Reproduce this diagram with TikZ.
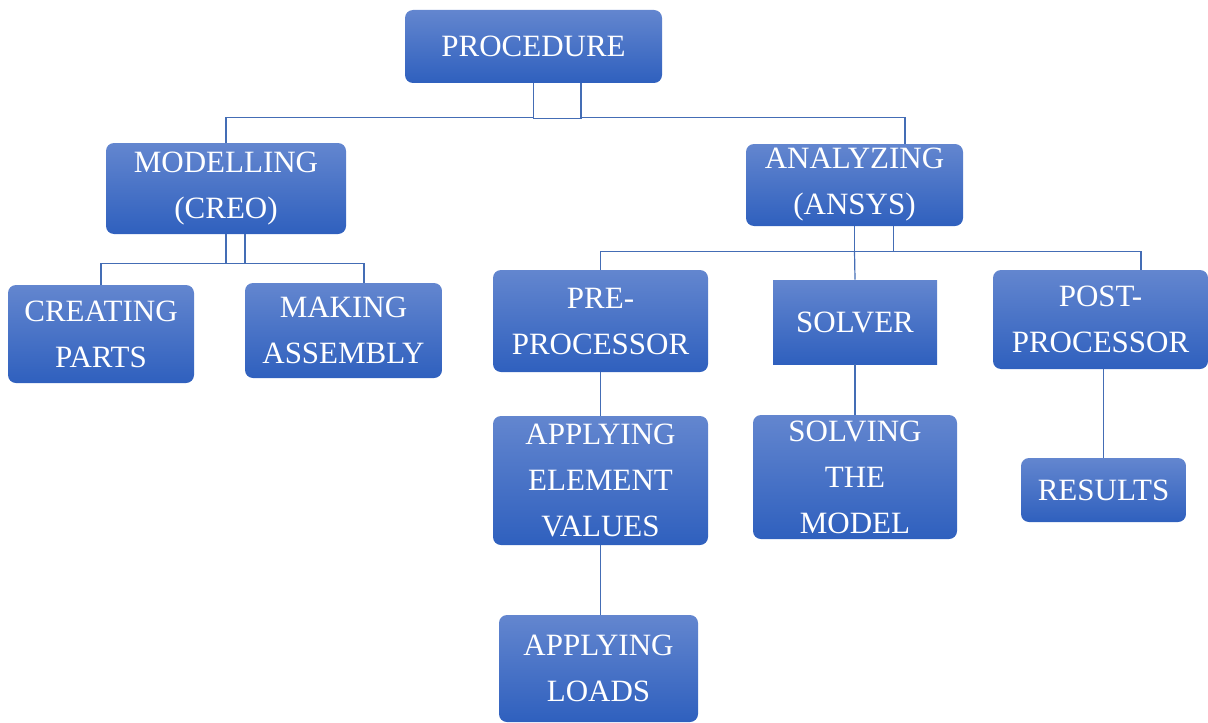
\documentclass[tikz,border=0pt]{standalone}
\usepackage{fontspec}
\setmainfont{Liberation Serif}
\usetikzlibrary{positioning}
\definecolor{boxtop}{RGB}{99,134,207}
\definecolor{boxbottom}{RGB}{47,96,190}
\definecolor{linkcolor}{RGB}{68,109,181}

\begin{document}
\begin{tikzpicture}[
    x=0.5pt, y=-0.5pt,
    stage/.style={rounded corners=4pt, top color=boxtop, bottom color=boxbottom, text=white, align=center, inner sep=0pt, font=\fontsize{15.5}{23}\selectfont},
    link/.style={draw=linkcolor, line width=0.6pt}
]
    \useasboundingbox (0,0) rectangle (1208,722);

    % Top level
    \node[stage, minimum width=128.5pt, minimum height=36.5pt] (proc) at (533.5,46.5) {PROCEDURE};

    % Second level
    \node[stage, minimum width=120pt, minimum height=45.5pt] (model) at (226,188.5) {MODELLING\\(CREO)};
    \node[stage, minimum width=108.5pt, minimum height=41pt] (anal) at (854.5,185) {ANALYZING\\(ANSYS)};

    % Modelling branch
    \node[stage, minimum width=93pt, minimum height=49pt] (parts) at (101,334) {CREATING\\PARTS};
    \node[stage, minimum width=98.5pt, minimum height=47.5pt] (assem) at (343.5,330.5) {MAKING\\ASSEMBLY};

    % Analyzing branch
    \node[stage, minimum width=107.5pt, minimum height=51pt] (pre) at (600.5,321) {PRE-\\PROCESSOR};
    \node[stage, sharp corners, minimum width=82pt, minimum height=42pt] (solver) at (855,322) {SOLVER};
    \node[stage, minimum width=107.5pt, minimum height=49.5pt] (post) at (1100.5,319.5) {POST-\\PROCESSOR};

    \node[stage, minimum width=107.5pt, minimum height=64.5pt] (elem) at (600.5,480.5) {APPLYING\\ELEMENT\\VALUES};
    \node[stage, minimum width=102pt, minimum height=62pt] (solving) at (855,477) {SOLVING\\THE\\MODEL};
    \node[stage, minimum width=82.5pt, minimum height=32pt] (results) at (1103.5,490) {RESULTS};
    \node[stage, minimum width=99.5pt, minimum height=53.5pt] (loads) at (598.5,668.5) {APPLYING\\LOADS};

    % Connectors
    \draw[link] (proc.south) |- ++(47.5,35) -- ++(0,-35);
    \draw[link] ([yshift=-17pt]proc.south) -| (model.north);
    \draw[link] ([xshift=23.75pt,yshift=-17pt]proc.south) -| ([xshift=25.25pt]anal.north);

    \draw[link] (model.south) |- ++(19,29) -- ++(0,-29);
    \draw[link] ([yshift=-14.5pt]model.south) -| (parts.north);
    \draw[link] ([xshift=9.5pt,yshift=-14.5pt]model.south) -| ([xshift=10.25pt]assem.north);

    \draw[link] (anal.south) |- ++(39,25) -- ++(0,-25);
    \draw[link] ([yshift=-12.5pt]anal.south) -| (pre.north);
    \draw[link] ([yshift=-12.5pt]anal.south) -- (solver.north);
    \draw[link] ([xshift=19.5pt,yshift=-12.5pt]anal.south) -| ([xshift=20.25pt]post.north);

    \draw[link] (pre) -- (elem);
    \draw[link] (solver) -- (solving);
    \draw[link] (results.north |- post.south) -- (results.north);
    \draw[link] (elem.south) -- (elem.south |- loads.north);
\end{tikzpicture}
\end{document}
